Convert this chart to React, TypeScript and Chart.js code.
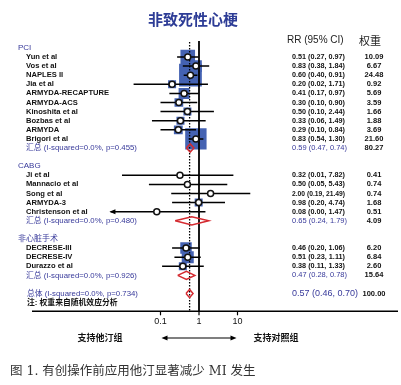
import React, { useEffect, useRef } from 'react';
import { Chart, registerables } from 'chart.js';
Chart.register(...registerables);

// ---------- data ----------
const chartTitle = '非致死性心梗';
const colHeaderRR = 'RR (95% CI)';
const colHeaderW = '权重';

const pciTitle = 'PCI';
const pciStudies = ['Yun et al', 'Vos et al', 'NAPLES II', 'Jia et al', 'ARMYDA-RECAPTURE', 'ARMYDA-ACS', 'Kinoshita et al', 'Bozbas et al', 'ARMYDA', 'Brigori et al'];
const pciRR = [0.51, 0.83, 0.60, 0.20, 0.41, 0.30, 0.50, 0.33, 0.29, 0.83];
const pciLow = [0.27, 0.38, 0.40, 0.02, 0.17, 0.10, 0.10, 0.06, 0.10, 0.54];
const pciHigh = [0.97, 1.84, 0.91, 1.71, 0.97, 0.90, 2.44, 1.49, 0.84, 1.30];
const pciWeight = [10.09, 6.67, 24.48, 0.92, 5.69, 3.59, 1.66, 1.88, 3.69, 21.60];
const pciPooled = [0.59, 0.47, 0.74];
const pciPooledWeight = 80.27;
const pciHet = '汇总 (I-squared=0.0%, p=0.455)';

const cabgTitle = 'CABG';
const cabgStudies = ['Ji et al', 'Mannacio et al', 'Song et al', 'ARMYDA-3', 'Christenson et al'];
const cabgRR = [0.32, 0.50, 2.00, 0.98, 0.08];
const cabgLow = [0.01, 0.05, 0.19, 0.20, 0.00];
const cabgHigh = [7.82, 5.43, 21.49, 4.74, 1.47];
const cabgWeight = [0.41, 0.74, 0.74, 1.68, 0.51];
const cabgPooled = [0.65, 0.24, 1.79];
const cabgPooledWeight = 4.09;
const cabgHet = '汇总 (I-squared=0.0%, p=0.480)';

const ncTitle = '非心脏手术';
const ncStudies = ['DECRESE-III', 'DECRESE-IV', 'Durazzo et al'];
const ncRR = [0.46, 0.51, 0.38];
const ncLow = [0.20, 0.23, 0.11];
const ncHigh = [1.06, 1.11, 1.33];
const ncWeight = [6.20, 6.84, 2.60];
const ncPooled = [0.47, 0.28, 0.78];
const ncPooledWeight = 15.64;
const ncHet = '汇总 (I-squared=0.0%, p=0.926)';

const overall = [0.57, 0.46, 0.70];
const overallWeight = 100.0;
const overallHet = '总体 (I-squared=0.0%, p=0.734)';
const noteText = '注: 权重来自随机效应分析';

const xTicks = [0.1, 1, 10];
const xTickLabels = ['0.1', '1', '10'];
const favoursLeft = '支持他汀组';
const favoursRight = '支持对照组';
const caption = '图 1. 有创操作前应用他汀显著减少 MI 发生';

// ---------- component ----------
export default function App() {
  const ref = useRef<HTMLCanvasElement>(null);

  useEffect(() => {
    const canvas = ref.current;
    if (!canvas) return;

    const groups = [
      { title: pciTitle, names: pciStudies, rr: pciRR, lo: pciLow, hi: pciHigh, w: pciWeight, pooled: pciPooled, pw: pciPooledWeight, het: pciHet },
      { title: cabgTitle, names: cabgStudies, rr: cabgRR, lo: cabgLow, hi: cabgHigh, w: cabgWeight, pooled: cabgPooled, pw: cabgPooledWeight, het: cabgHet },
      { title: ncTitle, names: ncStudies, rr: ncRR, lo: ncLow, hi: ncHigh, w: ncWeight, pooled: ncPooled, pw: ncPooledWeight, het: ncHet },
    ];

    const X_MIN = 0.005, X_MAX = 30;
    const Y_MIN = -2, Y_MAX = 28;
    const DH = 0.45; // diamond half-height in rows

    type Row = { kind: 'header' | 'study' | 'pooled'; row: number; label: string; rr?: number; lo?: number; hi?: number; w?: number };
    const rows: Row[] = [];
    let r = -1;
    groups.forEach((g) => {
      rows.push({ kind: 'header', row: r, label: g.title });
      g.names.forEach((n, i) => rows.push({ kind: 'study', row: r + 1 + i, label: n, rr: g.rr[i], lo: g.lo[i], hi: g.hi[i], w: g.w[i] }));
      rows.push({ kind: 'pooled', row: r + 1 + g.names.length, label: g.het, rr: g.pooled[0], lo: g.pooled[1], hi: g.pooled[2], w: g.pw });
      r += g.names.length + 3;
    });
    const overallRow = r;
    const noteRow = r + 1;
    const studies = rows.filter((x) => x.kind === 'study');
    const pooledRows = rows.filter((x) => x.kind === 'pooled');

    const boxed = studies.filter((s) => (s.w as number) >= 0.8);
    const boxSide = (w: number) => Math.max(8, 4.6 * Math.sqrt(w));

    const ciData: any[] = [];
    studies.forEach((s) => {
      ciData.push({ x: Math.max(s.lo as number, X_MIN), y: s.row });
      ciData.push({ x: Math.min(s.hi as number, X_MAX), y: s.row });
      ciData.push({ x: NaN, y: NaN });
    });

    const diamondData: any[] = [];
    const addDiamond = (est: number, lo: number, hi: number, row: number) => {
      diamondData.push({ x: lo, y: row }, { x: est, y: row - DH }, { x: hi, y: row }, { x: est, y: row + DH }, { x: lo, y: row }, { x: NaN, y: NaN });
    };
    pooledRows.forEach((p) => addDiamond(p.rr as number, p.lo as number, p.hi as number, p.row));
    addDiamond(overall[0], overall[1], overall[2], overallRow);

    const BLUE = '#37399a';
    const SANS = "'Liberation Sans', Arial, sans-serif";
    const CJK = "'Liberation Sans', 'Noto Sans CJK SC', sans-serif";

    const textPlugin = {
      id: 'forestText',
      afterDraw(chart: any) {
        const { ctx, scales } = chart;
        const xs = scales.x, ys = scales.y;
        const X = (v: number) => xs.getPixelForValue(v);
        const Y = (v: number) => ys.getPixelForValue(v);
        ctx.save();
        ctx.textBaseline = 'middle';

        // title
        ctx.fillStyle = '#2d3c96';
        ctx.font = `bold 15px 'Noto Sans CJK SC', sans-serif`;
        ctx.textAlign = 'center';
        ctx.fillText(chartTitle, 193, 19);

        // column headers
        ctx.fillStyle = '#222';
        ctx.font = `10px ${SANS}`;
        ctx.textAlign = 'left';
        ctx.fillText(colHeaderRR, 287, Y(-1.8));
        ctx.font = `11px 'Noto Sans CJK SC', sans-serif`;
        ctx.textAlign = 'center';
        ctx.fillText(colHeaderW, 370, Y(-1.75));

        const fmt = (a: number, b: number, c: number) => `${a.toFixed(2)} (${b.toFixed(2)}, ${c.toFixed(2)})`;

        rows.forEach((row) => {
          const y = Y(row.row);
          ctx.textAlign = 'left';
          if (row.kind === 'header') {
            ctx.fillStyle = BLUE;
            ctx.font = `8px ${CJK}`;
            ctx.fillText(row.label, 18, y);
          } else if (row.kind === 'study') {
            ctx.fillStyle = '#111';
            ctx.font = `bold 7.6px ${SANS}`;
            ctx.fillText(row.label, 26, y);
            ctx.font = `bold 7.5px ${SANS}`;
            ctx.fillText(fmt(row.rr as number, row.lo as number, row.hi as number), 292, y, 53);
            ctx.textAlign = 'center';
            ctx.fillText((row.w as number).toFixed(2), 374, y);
          } else {
            ctx.fillStyle = BLUE;
            ctx.font = `7.8px ${CJK}`;
            ctx.fillText(row.label, 26, y);
            ctx.font = `7.5px ${SANS}`;
            ctx.fillText(fmt(row.rr as number, row.lo as number, row.hi as number), 292, y, 55);
            ctx.fillStyle = '#111';
            ctx.font = `bold 7.5px ${SANS}`;
            ctx.textAlign = 'center';
            ctx.fillText((row.w as number).toFixed(2), 374, y);
          }
        });

        // overall + note
        ctx.textAlign = 'left';
        ctx.fillStyle = BLUE;
        ctx.font = `7.8px ${CJK}`;
        ctx.fillText(overallHet, 27, Y(overallRow));
        ctx.font = `9px ${SANS}`;
        ctx.fillText(fmt(overall[0], overall[1], overall[2]), 292, Y(overallRow));
        ctx.fillStyle = '#111';
        ctx.font = `bold 7.5px ${SANS}`;
        ctx.textAlign = 'center';
        ctx.fillText(overallWeight.toFixed(2), 374, Y(overallRow));
        ctx.textAlign = 'left';
        ctx.font = `bold 7.8px ${CJK}`;
        ctx.fillText(noteText, 27, Y(noteRow));

        // Christenson arrow head (lower CI beyond the axis minimum)
        ctx.fillStyle = '#000';
        studies.forEach((s) => {
          if ((s.lo as number) < X_MIN) {
            const ax = X(X_MIN), ay = Y(s.row);
            ctx.beginPath();
            ctx.moveTo(ax - 1, ay);
            ctx.lineTo(ax + 5, ay - 2.5);
            ctx.lineTo(ax + 5, ay + 2.5);
            ctx.closePath();
            ctx.fill();
          }
        });

        // x axis line
        const axisY = Y(Y_MAX) - 0.5;
        ctx.strokeStyle = '#000';
        ctx.lineWidth = 1.5;
        ctx.beginPath();
        ctx.moveTo(32, axisY);
        ctx.lineTo(398, axisY);
        ctx.stroke();
        // ticks
        ctx.lineWidth = 1.2;
        xTicks.forEach((t, i) => {
          const tx = X(t);
          ctx.beginPath();
          ctx.moveTo(tx, axisY);
          ctx.lineTo(tx, axisY + 4);
          ctx.stroke();
          ctx.fillStyle = '#111';
          ctx.font = `9px ${SANS}`;
          ctx.textAlign = 'center';
          ctx.fillText(xTickLabels[i], tx, axisY + 10);
        });

        // favours labels & double arrow
        const fy = 338;
        ctx.font = `bold 9px 'Noto Sans CJK SC', sans-serif`;
        ctx.textAlign = 'center';
        ctx.fillText(favoursLeft, 100, fy);
        ctx.fillText(favoursRight, 276, fy);
        const a0 = X(xTicks[0]) + 1, a1 = X(xTicks[2]) - 1;
        ctx.lineWidth = 1.2;
        ctx.beginPath();
        ctx.moveTo(a0 + 3, fy);
        ctx.lineTo(a1 - 3, fy);
        ctx.stroke();
        ctx.fillStyle = '#000';
        ctx.beginPath();
        ctx.moveTo(a0, fy); ctx.lineTo(a0 + 6, fy - 2.5); ctx.lineTo(a0 + 6, fy + 2.5); ctx.closePath(); ctx.fill();
        ctx.beginPath();
        ctx.moveTo(a1, fy); ctx.lineTo(a1 - 6, fy - 2.5); ctx.lineTo(a1 - 6, fy + 2.5); ctx.closePath(); ctx.fill();

        // caption
        ctx.fillStyle = '#333';
        ctx.font = `12.5px 'DejaVu Serif', 'Noto Sans CJK SC', serif`;
        ctx.textAlign = 'left';
        ctx.fillText(caption, 10, 372);

        ctx.restore();
      },
    };

    const bgPlugin = {
      id: 'bg',
      beforeDraw(chart: any) {
        const { ctx, width, height } = chart;
        ctx.save();
        ctx.fillStyle = '#fff';
        ctx.fillRect(0, 0, width, height);
        ctx.restore();
      },
    };

    // layout: 1 → x=199px, 38.5 px / decade; row 0 → y=57px, 9.1 px / row
    const pxPerDec = 38.5;
    const left = 199 + pxPerDec * Math.log10(X_MIN);
    const right = 199 + pxPerDec * Math.log10(X_MAX);
    const top = 57 + 9.1 * Y_MIN;
    const bottom = 57 + 9.1 * Y_MAX;

    const chart = new Chart(canvas, {
      type: 'scatter',
      data: {
        datasets: [
          {
            label: 'circles',
            data: studies.map((s) => ({ x: s.rr, y: s.row })),
            pointStyle: 'circle',
            pointRadius: 3,
            backgroundColor: '#fff',
            borderColor: '#111',
            borderWidth: 1.5,
            order: 1,
          },
          {
            label: 'diamonds',
            data: diamondData,
            showLine: true,
            pointRadius: 0,
            borderColor: '#d42a30',
            borderWidth: 1.5,
            spanGaps: false,
            order: 2,
          },
          {
            label: 'ci',
            data: ciData,
            showLine: true,
            pointRadius: 0,
            borderColor: '#000',
            borderWidth: 1.5,
            spanGaps: false,
            order: 3,
          },
          {
            label: 'null line',
            data: [{ x: 1, y: -1.76 }, { x: 1, y: Y_MAX }],
            showLine: true,
            pointRadius: 0,
            borderColor: '#000',
            borderWidth: 1.8,
            order: 4,
          },
          {
            label: 'overall line',
            data: [{ x: overall[0], y: -1.65 }, { x: overall[0], y: Y_MAX }],
            showLine: true,
            pointRadius: 0,
            borderColor: '#000',
            borderWidth: 1.3,
            borderDash: [1.5, 1.5],
            order: 4,
          },
          {
            label: 'boxes',
            data: boxed.map((s) => ({ x: s.rr, y: s.row })),
            pointStyle: 'rect',
            pointRadius: boxed.map((s) => boxSide(s.w as number) / Math.SQRT2),
            backgroundColor: '#4462b2',
            borderWidth: 0,
            order: 5,
          },
        ] as any,
      },
      options: {
        animation: false,
        responsive: false,
        events: [],
        layout: { padding: { left, right: 401 - right, top, bottom: 385 - bottom } },
        plugins: { legend: { display: false }, tooltip: { enabled: false }, title: { display: false } },
        scales: {
          x: { type: 'logarithmic', min: X_MIN, max: X_MAX, display: false },
          y: { type: 'linear', min: Y_MIN, max: Y_MAX, reverse: true, display: false },
        },
      } as any,
      plugins: [bgPlugin, textPlugin],
    });

    return () => chart.destroy();
  }, []);

  return (
    <div style={{ position: 'fixed', left: 0, top: 0, width: 401, height: 385, background: '#fff' }}>
      <canvas ref={ref} width={401} height={385} style={{ display: 'block', width: 401, height: 385 }} />
    </div>
  );
}
